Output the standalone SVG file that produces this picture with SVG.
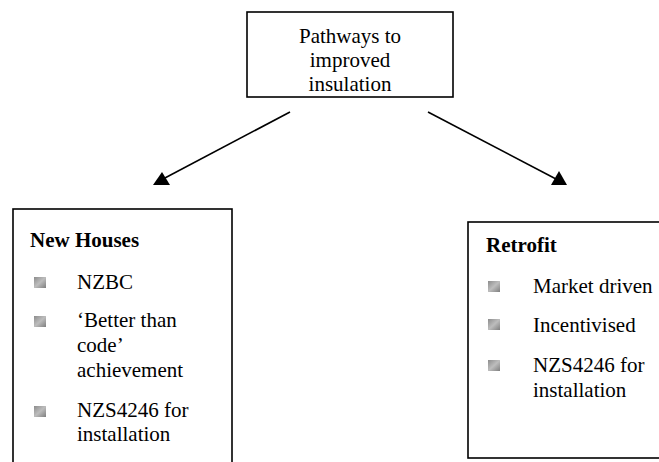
<svg xmlns="http://www.w3.org/2000/svg" width="659" height="462" viewBox="0 0 659 462">
<style>
.box{fill:#fff;stroke:#000;stroke-width:1.6}
.t{font-family:"Liberation Serif","Times New Roman",serif;font-size:21px;fill:#000}
.b{font-weight:bold}
.mid{text-anchor:middle}
.line{stroke:#000;stroke-width:1.6;fill:none}
.head{fill:#000}
</style>
<defs>
<linearGradient id="bg" x1="0" y1="0" x2="1" y2="1">
<stop offset="0" stop-color="#8c8c8c"/>
<stop offset="0.5" stop-color="#bdbdbd"/>
<stop offset="1" stop-color="#7e7e7e"/>
</linearGradient>
<rect id="bul" width="12" height="11" fill="url(#bg)"/>
</defs>
<rect width="659" height="462" fill="#fff"/>
<g id="top">
<rect class="box" x="247" y="12" width="206" height="85"/>
<text class="t mid" x="350" y="43">Pathways to</text>
<text class="t mid" x="350" y="67">improved</text>
<text class="t mid" x="350" y="91">insulation</text>
</g>
<g id="connectors">
<line class="line" x1="290" y1="112" x2="163" y2="179"/>
<polygon class="head" points="153,185 162,172 170,185"/>
<line class="line" x1="428" y1="112" x2="556" y2="179"/>
<polygon class="head" points="551,185 559,171 567,185"/>
</g>
<g id="newhouses">
<rect class="box" x="13" y="209" width="219" height="260"/>
<text class="t b" x="30" y="247">New Houses</text>
<use href="#bul" x="34" y="277"/>
<text class="t" x="77" y="289">NZBC</text>
<use href="#bul" x="34" y="316"/>
<text class="t" x="77" y="327">‘Better than</text>
<text class="t" x="77" y="352">code’</text>
<text class="t" x="77" y="377">achievement</text>
<use href="#bul" x="34" y="406"/>
<text class="t" x="77" y="417">NZS4246 for</text>
<text class="t" x="77" y="441">installation</text>
</g>
<g id="retrofit">
<rect class="box" x="468" y="222" width="200" height="236"/>
<text class="t b" x="486" y="252">Retrofit</text>
<use href="#bul" x="488" y="281"/>
<text class="t" x="533" y="293">Market driven</text>
<use href="#bul" x="488" y="319"/>
<text class="t" x="533" y="332">Incentivised</text>
<use href="#bul" x="488" y="360"/>
<text class="t" x="533" y="372">NZS4246 for</text>
<text class="t" x="533" y="397">installation</text>
</g>
</svg>
